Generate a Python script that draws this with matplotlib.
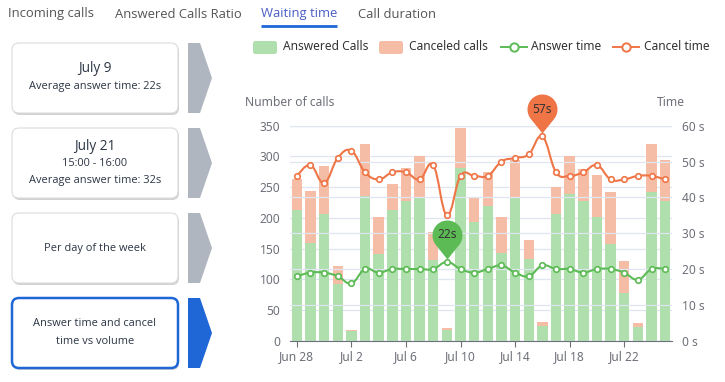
import numpy as np
import matplotlib
matplotlib.use('Agg')
import matplotlib.pyplot as plt
from matplotlib.path import Path
from matplotlib.patches import FancyBboxPatch, Polygon, PathPatch

# data
dates = ['Jun 28', 'Jun 29', 'Jun 30', 'Jul 1', 'Jul 2', 'Jul 3', 'Jul 4', 'Jul 5', 'Jul 6', 'Jul 7',
         'Jul 8', 'Jul 9', 'Jul 10', 'Jul 11', 'Jul 12', 'Jul 13', 'Jul 14', 'Jul 15', 'Jul 16', 'Jul 17',
         'Jul 18', 'Jul 19', 'Jul 20', 'Jul 21', 'Jul 22', 'Jul 23', 'Jul 24', 'Jul 25']
answered = [212, 159, 207, 93, 16, 236, 141, 213, 228, 232,
            132, 18, 281, 194, 219, 142, 233, 133, 24, 207,
            239, 227, 202, 158, 77, 22, 242, 228]
canceled = [51, 84, 78, 29, 2, 85, 60, 42, 53, 69,
            45, 2, 65, 40, 55, 59, 61, 31, 6, 44,
            61, 52, 68, 84, 53, 6, 78, 66]
answer_time = [18, 19, 19, 18, 16, 20, 19, 20, 20, 20,
               20, 22, 20, 19, 20, 21, 19, 18, 21, 20,
               20, 19, 20, 20, 19, 17, 20, 20]
cancel_time = [46, 49, 44, 51, 53, 47, 45, 47, 47, 45,
               49, 35, 46, 46, 46, 50, 51, 52, 57, 47,
               46, 47, 49, 45, 45, 46, 46, 45]

tabs = ['Incoming calls', 'Answered Calls Ratio', 'Waiting time', 'Call duration']
cards = [['July 9', 'Average answer time: 22s'],
         ['July 21', '15:00 - 16:00', 'Average answer time: 32s'],
         ['Per day of the week'],
         ['Answer time and cancel', 'time vs volume']]

GREEN_BAR = '#aedfac'
RED_BAR = '#f6bda6'
GREEN = '#5cbb55'
ORANGE = '#ef7547'
BLUE = '#1f66d6'
GREY_TXT = '#6e7079'
GRID = '#e0e6f1'

W, H = 725, 382
fig = plt.figure(figsize=(W / 100, H / 100), dpi=100)

# overlay in pixel coordinates for the dashboard pieces
bg = fig.add_axes([0, 0, 1, 1])
bg.set_xlim(0, W)
bg.set_ylim(H, 0)
bg.axis('off')

tab_x = [8, 115, 261, 358]
for t, x in zip(tabs, tab_x):
    col = '#4a5cc4' if t == 'Waiting time' else '#555555'
    bg.text(x, 14, t, fontsize=9.4, family='Open Sans', color=col, va='center', ha='left')
bg.plot([261, 337], [25.5, 25.5], color=BLUE, lw=2, solid_capstyle='butt')

card_top = [43, 128, 213, 298]
text_y = [[69, 87], [146, 163, 181], [248], [324, 342]]
for i, (top, lines, ys) in enumerate(zip(card_top, cards, text_y)):
    active = i == 3
    sh = FancyBboxPatch((13, top + 2), 166, 70, boxstyle='round,pad=0,rounding_size=7',
                        fc='#000000', ec='none', alpha=0.18)
    bg.add_patch(sh)
    card = FancyBboxPatch((12, top), 166, 70, boxstyle='round,pad=0,rounding_size=7',
                          fc='white', ec=BLUE if active else '#dcdcdc', lw=1.8 if active else 0.8)
    bg.add_patch(card)
    for j, (s, y) in enumerate(zip(lines, ys)):
        big = (j == 0 and i < 2)
        bg.text(95, y, s, fontsize=9.8 if big else 7.9, family='Open Sans',
                color='#2b3544', ha='center', va='center')
    arrow = Polygon([(188, top), (200, top), (212, top + 35), (200, top + 70), (188, top + 70)],
                    closed=True, fc=BLUE if active else '#b0b6c0', ec='none')
    bg.add_patch(arrow)

# legend
leg_fs = 8.6
bg.add_patch(FancyBboxPatch((253, 41), 24, 13, boxstyle='round,pad=0,rounding_size=2.5', fc=GREEN_BAR, ec='none'))
bg.text(283, 47, 'Answered Calls', fontsize=leg_fs, family='Noto Sans', color='#333333', va='center')
bg.add_patch(FancyBboxPatch((379, 41), 24, 13, boxstyle='round,pad=0,rounding_size=2.5', fc=RED_BAR, ec='none'))
bg.text(409, 47, 'Canceled calls', fontsize=leg_fs, family='Noto Sans', color='#333333', va='center')
bg.plot([501, 527], [47, 47], color=GREEN, lw=1.4)
bg.plot([514], [47], marker='o', ms=6, mfc='white', mec=GREEN, mew=1.4)
bg.text(531, 47, 'Answer time', fontsize=leg_fs, family='Noto Sans', color='#333333', va='center')
bg.plot([613, 639], [47, 47], color=ORANGE, lw=1.4)
bg.plot([626], [47], marker='o', ms=6, mfc='white', mec=ORANGE, mew=1.4)
bg.text(644, 47, 'Cancel time', fontsize=leg_fs, family='Noto Sans', color='#333333', va='center')

# axis names
bg.text(245, 103, 'Number of calls', fontsize=8.7, family='Noto Sans', color=GREY_TXT, va='center', ha='left')
bg.text(657, 103, 'Time', fontsize=8.7, family='Noto Sans', color=GREY_TXT, va='center', ha='left')

# chart axes
left, right, top, bottom = 290, 672, 125.7, 340.7
ax = fig.add_axes([left / W, (H - bottom) / H, (right - left) / W, (bottom - top) / H])
ax.patch.set_alpha(0)
x = np.arange(len(dates))
ax.set_xlim(-0.5, len(dates) - 0.5)
ax.set_ylim(0, 350)
ax.set_yticks(range(0, 351, 50))
ax.grid(axis='y', color=GRID, lw=0.9)
ax.set_axisbelow(True)
ax.bar(x, answered, width=0.76, color=GREEN_BAR, zorder=2)
ax.bar(x, canceled, bottom=answered, width=0.76, color=RED_BAR, zorder=2)
for sp in ['top', 'left', 'right']:
    ax.spines[sp].set_visible(False)
ax.spines['bottom'].set_color(GREY_TXT)
ax.set_xticks(x[::4])
ax.set_xticklabels(dates[::4])
ax.tick_params(axis='x', colors=GREY_TXT, length=4, labelsize=8.6, pad=3)
ax.tick_params(axis='y', length=0, labelsize=8.6, colors=GREY_TXT, pad=7)
for lab in ax.get_xticklabels() + ax.get_yticklabels():
    lab.set_family('Noto Sans')

ax2 = ax.twinx()
ax2.set_ylim(0, 60)
ax2.set_yticks(range(0, 61, 10))
ax2.set_yticklabels(['%d s' % v for v in range(0, 61, 10)])
ax2.grid(axis='y', color=GRID, lw=0.9)
ax2.set_axisbelow(True)
for sp in ['top', 'left', 'right', 'bottom']:
    ax2.spines[sp].set_visible(False)
ax2.tick_params(axis='y', length=0, labelsize=8.6, colors=GREY_TXT, pad=7)
for lab in ax2.get_yticklabels():
    lab.set_family('Noto Sans')


def smooth_path(xs, ys, s=0.2):
    pts = np.column_stack([xs, ys]).astype(float)
    verts = [pts[0]]
    codes = [Path.MOVETO]
    n = len(pts)
    for i in range(n - 1):
        p0 = pts[i - 1] if i > 0 else pts[i]
        p1, p2 = pts[i], pts[i + 1]
        p3 = pts[i + 2] if i + 2 < n else pts[i + 1]
        verts += [p1 + (p2 - p0) * s, p2 - (p3 - p1) * s, p2]
        codes += [Path.CURVE4] * 3
    return Path(verts, codes)


for vals, col in [(answer_time, GREEN), (cancel_time, ORANGE)]:
    ax2.add_patch(PathPatch(smooth_path(x, vals), fc='none', ec=col, lw=1.5, zorder=3))
    ax2.plot(x, vals, ls='none', marker='o', ms=4, mfc='white', mec=col, mew=1.2, zorder=4)

# pin markers (tip just above the data point, head above)
r, d, gap = 15.0, 24.0, 3.0
a = np.arccos(r / d)
ang = np.linspace(-np.pi / 2 + a, 3 * np.pi / 2 - a, 40)
pin = np.vstack([[0, gap], np.column_stack([r * np.cos(ang), gap + d + r * np.sin(ang)]), [0, gap]])
pin_marker = Path(pin, closed=True)
pin_ms = 2 * (gap + d + r) * 0.72

for idx, vals, col in [(int(np.argmax(answer_time)), answer_time, GREEN),
                       (int(np.argmax(cancel_time)), cancel_time, ORANGE)]:
    ax2.plot([idx], [vals[idx]], marker=pin_marker, ms=pin_ms, mfc=col, mec='none', zorder=6,
             ls='none', clip_on=False)
    ax2.annotate('%ds' % vals[idx], (idx, vals[idx]), xytext=(0, (gap + d) * 0.72), textcoords='offset points',
                 ha='center', va='center', fontsize=8.6, family='Noto Sans', color='#333333', zorder=7,
                 annotation_clip=False)

fig.savefig('out.png', dpi=100)
